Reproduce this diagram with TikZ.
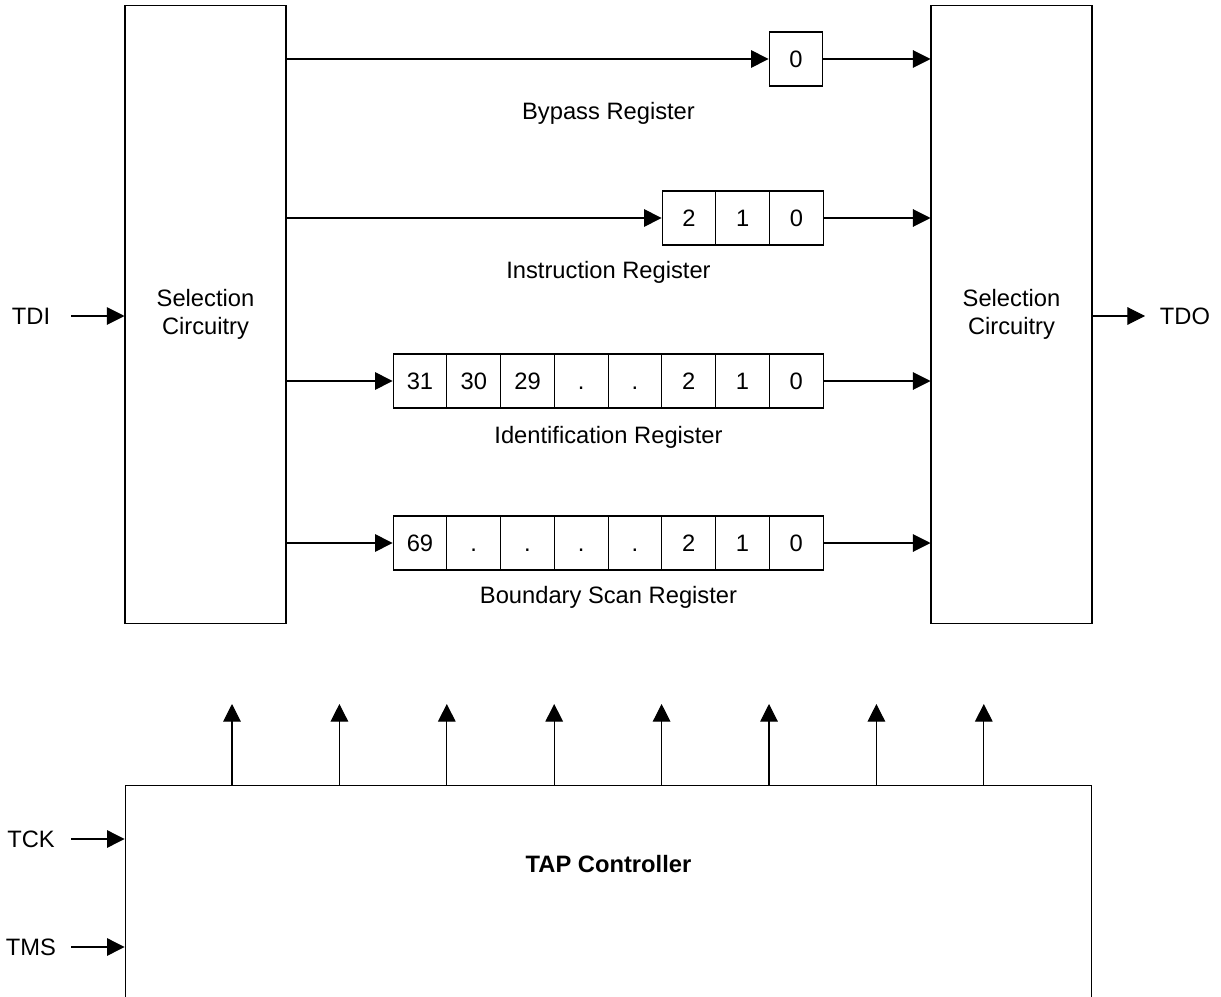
\documentclass[tikz,border=0pt]{standalone}
\usepackage{fontspec}
\setmainfont{Liberation Sans}
\usetikzlibrary{arrows.meta}

\begin{document}
\begin{tikzpicture}[%
        > = {Triangle[length=10pt, width=10pt]},
        x = 0.02cm,
        y = -0.02cm,
        line width = 0.6pt,
        every node/.style = {font=\fontsize{13.5}{16}\selectfont},
        selbox/.style = {draw, minimum width=3.22cm, minimum height=12.38cm,
                         align=center, inner sep=0pt},
        cell/.style = {draw, minimum width=1.075cm, minimum height=1.08cm,
                       inner sep=0pt, text height=9.7pt, text depth=0pt}
    ]

        % Frame of the figure (the controller box runs off the bottom).
        \useasboundingbox (0,0) rectangle (1221,997);
        \clip (0,0) rectangle (1221,997);

        % Selection circuitry on both sides.
        \node[selbox] (selL) at (205.5,314.5) {Selection\\Circuitry};
        \node[selbox] (selR) at (1011.5,314.5) {Selection\\Circuitry};

        % Registers:
        \node[cell] (byp0) at (796,59) {0};
        \foreach \v [count=\i from 0] in {2,1,0}
            \node[cell] (ins\i) at ({689+53.75*\i},218) {\v};
        \foreach \v [count=\i from 0] in {31,30,29,.,.,2,1,0}
            \node[cell] (idr\i) at ({420+53.75*\i},381) {\v};
        \foreach \v [count=\i from 0] in {69,.,.,.,.,2,1,0}
            \node[cell] (bsr\i) at ({420+53.75*\i},543) {\v};

        \node (bypLabel) at (608.5,113) {Bypass Register};
        \node (insLabel) at (608.5,272) {Instruction Register};
        \node (idrLabel) at (608.5,437) {Identification Register};
        \node (bsrLabel) at (608.5,597) {Boundary Scan Register};

        % Data paths through the registers.
        \draw[->] (selL.east |- byp0) -- (byp0.west);
        \draw[->] (byp0.east) -- (selR.west |- byp0);
        \draw[->] (selL.east |- ins0) -- (ins0.west);
        \draw[->] (ins2.east) -- (selR.west |- ins2);
        \draw[->] (selL.east |- idr0) -- (idr0.west);
        \draw[->] (idr7.east) -- (selR.west |- idr7);
        \draw[->] (selL.east |- bsr0) -- (bsr0.west);
        \draw[->] (bsr7.east) -- (selR.west |- bsr7);

        % TDI and TDO.
        \node (tdi) at (31,316) {TDI};
        \coordinate (tdiIn) at (71,316);
        \draw[->] (tdiIn) -- (selL.west |- tdiIn);
        \node (tdo) at (1185,316) {TDO};
        \coordinate (tdoOut) at (1145,316);
        \draw[->] (selR.east |- tdoOut) -- (tdoOut);

        % TAP controller with its control outputs.
        \node[draw, minimum width=19.34cm, minimum height=6cm,
              anchor=north, inner sep=0pt] (tap) at (608.5,785) {};
        \node (tapLabel) at (608.5,864) {\bfseries TAP Controller};
        \foreach \i in {0,...,7} {
            \coordinate (ctl\i) at ({232+107.4*\i},704);
            \draw[->] (ctl\i |- tap.north) -- (ctl\i);
        }

        \node (tck) at (31,839) {TCK};
        \coordinate (tckIn) at (71,839);
        \draw[->] (tckIn) -- (tap.west |- tckIn);
        \node (tms) at (31,947) {TMS};
        \coordinate (tmsIn) at (71,947);
        \draw[->] (tmsIn) -- (tap.west |- tmsIn);
    \end{tikzpicture}
\end{document}
